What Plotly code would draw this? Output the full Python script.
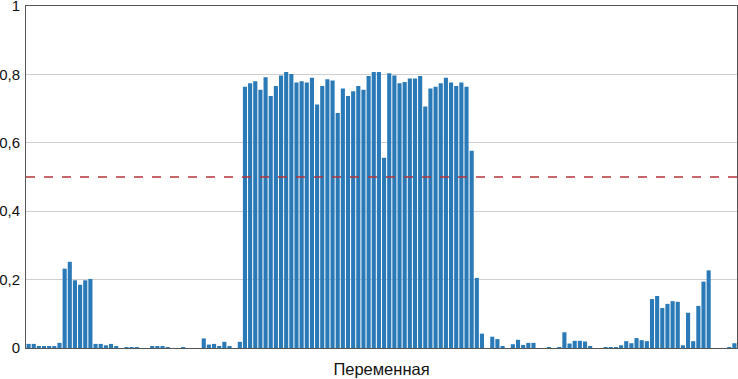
import plotly.graph_objects as go

values_start = [0.012, 0.012, 0.003, 0.004, 0.005, 0.003, 0.015,
                0.232, 0.252, 0.198, 0.185, 0.198, 0.202,
                0.012, 0.012, 0.008, 0.012, 0.003, 0.0, 0.002, 0.002, 0.002,
                0.0, 0.0, 0.004, 0.003, 0.005, 0.002, 0.0, 0.0, 0.002, 0.0,
                0.0, 0.0, 0.028, 0.010, 0.012, 0.003, 0.018, 0.006, 0.0, 0.018]
values_middle = [0.764, 0.774, 0.780, 0.755, 0.792, 0.737, 0.766, 0.797, 0.807,
                 0.801, 0.776, 0.780, 0.776, 0.790, 0.712, 0.766, 0.786, 0.782,
                 0.687, 0.759, 0.737, 0.751, 0.766, 0.755, 0.795, 0.807, 0.807,
                 0.556, 0.803, 0.797, 0.774, 0.778, 0.788, 0.788, 0.795, 0.706,
                 0.759, 0.764, 0.774, 0.790, 0.776, 0.766, 0.776, 0.764, 0.577]
values_end = [0.205, 0.042, 0.0, 0.033, 0.026, 0.004, 0.0, 0.011, 0.024, 0.009,
              0.015, 0.015, 0.0, 0.0, 0.002, 0.0, 0.002, 0.046, 0.013, 0.021,
              0.021, 0.019, 0.004, 0.0, 0.0, 0.002, 0.002, 0.002, 0.008, 0.020,
              0.014, 0.029, 0.023, 0.020, 0.143, 0.152, 0.117, 0.129, 0.137,
              0.135, 0.008, 0.103, 0.020, 0.123, 0.194, 0.227, 0.0, 0.0, 0.0,
              0.002, 0.014]
values = values_start + values_middle + values_end
categories = [f"V{i + 1}" for i in range(len(values))]

threshold = 0.5
y_ticks = [0, 0.2, 0.4, 0.6, 0.8, 1]
y_tick_labels = ["0", "0,2", "0,4", "0,6", "0,8", "1"]
x_title = "Переменная"

fig = go.Figure()
fig.add_trace(go.Bar(x=categories, y=values, marker=dict(color="#2a7ab8", line=dict(width=0)),
                     showlegend=False))
fig.add_shape(type="line", xref="paper", x0=0, x1=1, yref="y", y0=threshold, y1=threshold,
              line=dict(color="#b5343a", width=1.6, dash="dash"))

fig.update_layout(
    width=738, height=379,
    margin=dict(l=26, r=1, t=6, b=31, autoexpand=False),
    plot_bgcolor="white", paper_bgcolor="white",
    bargap=0.2,
    font=dict(family="Liberation Sans, Arial, sans-serif", size=15, color="#111"),
    xaxis=dict(showticklabels=False, ticks="", showgrid=False, showline=True,
               linecolor="#555", linewidth=1, mirror=True, automargin=False,
               title=dict(text=x_title, standoff=15, font=dict(size=16.5))),
    yaxis=dict(range=[0, 1], tickvals=y_ticks, ticktext=y_tick_labels,
               showgrid=True, gridcolor="#cfcfcf", gridwidth=1,
               showline=True, linecolor="#555", linewidth=1, mirror=True,
               ticks="", zeroline=False, ticklabelstandoff=2, automargin=False,
               ticklabeloverflow="allow"),
)
fig.write_html("out.html", config={"displayModeBar": False},
               post_script="document.body.style.margin='0';document.body.style.overflow='hidden';")
